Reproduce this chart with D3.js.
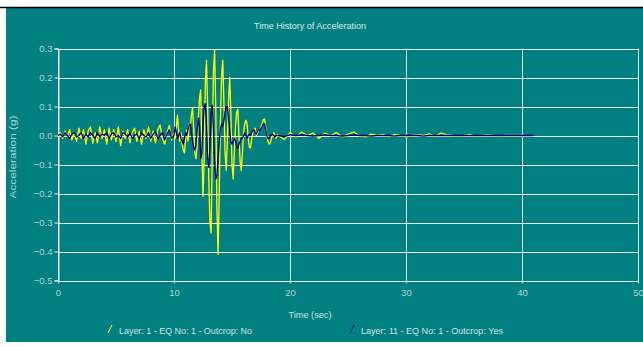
<!DOCTYPE html>
<html>
<head>
<meta charset="utf-8">
<script src="https://cdn.jsdelivr.net/npm/d3@7"></script>
<style>
  body { margin: 0; background: #ffffff; }
  svg { display: block; }
  text { font-family: "Liberation Sans", Arial, sans-serif; }
</style>
</head>
<body>
<div id="chart"></div>
<script>
// Time history data: each piece is a start time, a time step and sampled accelerations (g)
const xTicks = [0, 10, 20, 30, 40, 50];
const yTicks = [0.3, 0.2, 0.1, 0.0, -0.1, -0.2, -0.3, -0.4, -0.5];

// Layer 1 (yellow)
const layer1Quiet = [
    0.0, 0.01, -0.01, 0.015, -0.005, 0.02, -0.015, 0.01, -0.02, 0.025,
    -0.01, 0.02, -0.03, 0.015, 0.03, -0.026, 0.01, -0.025, 0.03, -0.01,
    0.02, -0.03, 0.025, -0.015, 0.02, -0.02, 0.03, -0.035, 0.015, -0.01,
    0.02, -0.025, 0.01, 0.025, -0.02, 0.015, -0.03, 0.02, -0.01, 0.03,
    -0.02, 0.015, -0.025, 0.02, 0.036, -0.01, -0.03, 0.01, 0.035, -0.015
];
const layer1Strong = [
    0.01, -0.01, 0.03, 0.07, 0.02, -0.02, 0.01, -0.03, -0.05, -0.06,
    -0.01, 0.02, -0.02, 0.04, 0.03, 0.07, 0.095, 0.02, -0.06, -0.08,
    -0.03, 0.06, 0.13, 0.157, -0.05, -0.21, -0.08, 0.18, 0.26, 0.1,
    -0.15, -0.3, -0.336, -0.05, 0.22, 0.295, 0.1, -0.25, -0.41, -0.2,
    0.05, 0.2, 0.26, 0.12, -0.06, -0.12, -0.02, 0.12, 0.2, 0.08,
    -0.1, -0.15, -0.06, 0.03, 0.08, 0.09, 0.0, -0.09, -0.12, -0.06,
    0.01, 0.04, 0.053, 0.04, -0.01, -0.04, -0.043, -0.01, 0.01, 0.02,
    0.025, 0.0, 0.01, 0.02, 0.015, 0.03, 0.04, 0.055, 0.057, 0.03,
    0.0, -0.02, -0.03, -0.026, -0.01, 0.0, 0.01, 0.0, -0.01, 0.005
];
const layer1Tail = [
    0.0, -0.014, 0.01, -0.005, 0.012, 0.0, 0.008, -0.01, 0.008, 0.0,
    0.01, -0.005, 0.005, 0.012, 0.0, -0.005, 0.005, 0.0, 0.004, -0.004,
    0.003, 0.0, -0.004, 0.0, 0.002, 0.0, 0.006, -0.004, 0.008, 0.003,
    0.0, -0.003, 0.0, 0.004, -0.003, 0.0, 0.002, 0.0, -0.002, 0.0,
    0.0, 0.0, 0.0
];

// Layer 11 (navy)
const layer11Quiet = [
    0.0, 0.005, -0.005, 0.01, 0.0, -0.01, 0.005, 0.01, -0.005, 0.0,
    0.01, -0.01, 0.005, -0.005, 0.01, 0.0, -0.01, 0.01, -0.005, 0.005,
    0.0, 0.01, -0.01, 0.005, 0.01, -0.005, 0.0, -0.01, 0.01, 0.005,
    -0.005, 0.01, -0.01, 0.0, 0.005, -0.01, 0.01, 0.0, -0.005, 0.01,
    -0.01, 0.005, 0.015, -0.01, 0.0, 0.01, -0.015, 0.005, 0.02, -0.01
];
const layer11Strong = [
    0.0, 0.03, 0.01, -0.01, 0.0, 0.01, -0.01, -0.02, -0.03, -0.01,
    0.01, 0.0, 0.02, 0.035, 0.04, 0.01, -0.02, -0.04, -0.05, -0.03,
    0.02, 0.06, 0.03, -0.08, -0.06, 0.04, 0.1, 0.11, 0.03, -0.08,
    -0.11, -0.04, 0.08, 0.105, 0.02, -0.09, -0.15, -0.14, -0.08, -0.02,
    0.02, 0.04, 0.03, 0.05, 0.08, 0.1, 0.1, 0.06, 0.02, -0.02,
    -0.03, -0.02, -0.01, -0.02, -0.04, -0.045, -0.03, -0.02, -0.01, -0.01,
    0.0, 0.01, 0.0, -0.01, 0.0, 0.005, 0.0, 0.01, 0.015, 0.02,
    0.01, 0.005, 0.015, 0.02, 0.015, 0.025, 0.03, 0.04, 0.04, 0.02,
    0.0, -0.01, -0.01, 0.0, 0.0, 0.005, 0.0, -0.005, 0.0, 0.0
];
const layer11Tail = [
    0.0, -0.004, 0.003, 0.0, 0.002, 0.0, -0.002, 0.0, 0.002, 0.0,
    0.0, -0.002, 0.0, 0.002, 0.0, 0.0, -0.002, 0.0, 0.0, 0.0,
    -0.002, 0.0, 0.0, 0.0, 0.0, -0.002, 0.0, 0.0, 0.0, 0.0,
    0.0, 0.0, 0.0, 0.0, 0.0, 0.0, 0.0, 0.0, 0.0, 0.0,
    0.0, 0.0, 0.0, 0.0, 0.0
];

const seriesNames = ["Layer: 1 - EQ No: 1 - Outcrop: No", "Layer: 11 - EQ No: 1 - Outcrop: Yes"];
const seriesColors = ["#ffff00", "#000080"];

function buildSeries(pieces) {
    const pts = [];
    pieces.forEach(p => {
        p.values.forEach((v, i) => pts.push([p.start + i * p.dt, v]));
    });
    return pts;
}

const series = [
    buildSeries([
        { start: 0, dt: 0.2, values: layer1Quiet },
        { start: 10, dt: 0.1, values: layer1Strong },
        { start: 19, dt: 0.5, values: layer1Tail }
    ]),
    buildSeries([
        { start: 0, dt: 0.2, values: layer11Quiet },
        { start: 10, dt: 0.1, values: layer11Strong },
        { start: 19, dt: 0.5, values: layer11Tail }
    ])
];

const width = 643;
const height = 347;
const plot = { left: 58, right: 638, top: 48.5, bottom: 280.5 };

const svg = d3.select("#chart")
    .append("svg")
    .attr("width", width)
    .attr("height", height);

// panel background
svg.append("rect")
    .attr("x", 6).attr("y", 8)
    .attr("width", width - 6).attr("height", 334)
    .attr("fill", "#008080");
svg.append("line")
    .attr("x1", 0).attr("x2", width)
    .attr("y1", 7.5).attr("y2", 7.5)
    .attr("stroke", "#000000")
    .attr("stroke-width", 1.5);

const x = d3.scaleLinear().domain([0, 50]).range([plot.left, plot.right]);
const y = d3.scaleLinear().domain([-0.5, 0.3]).range([plot.bottom, plot.top]);

// grid
svg.append("g")
    .selectAll("line")
    .data(yTicks)
    .join("line")
    .attr("x1", plot.left).attr("x2", plot.right)
    .attr("y1", d => Math.round(y(d)) + 0.5).attr("y2", d => Math.round(y(d)) + 0.5)
    .attr("stroke", "#f0f4f4")
    .attr("stroke-width", 1);

svg.append("g")
    .selectAll("line")
    .data(xTicks)
    .join("line")
    .attr("x1", d => Math.round(x(d)) + 0.5).attr("x2", d => Math.round(x(d)) + 0.5)
    .attr("y1", plot.top).attr("y2", plot.bottom + 3)
    .attr("stroke", "#d8e6e6")
    .attr("stroke-width", 1);

// axes
const yAxis = svg.append("g")
    .attr("transform", `translate(${plot.left + 0.5},0)`)
    .call(d3.axisLeft(y).tickValues(yTicks).tickSize(4).tickPadding(2).tickFormat(d3.format(".1f")));
const xAxis = svg.append("g")
    .attr("transform", `translate(0,${plot.bottom + 0.5})`)
    .call(d3.axisBottom(x).tickValues(xTicks).tickSize(0).tickPadding(8).tickFormat(d3.format("d")));

[yAxis, xAxis].forEach(a => {
    a.select(".domain").attr("stroke", "#f0f4f4");
    a.selectAll(".tick line").attr("stroke", "#f0f4f4");
    a.selectAll(".tick text")
        .attr("fill", "#b4d4d4")
        .attr("font-size", "9.5px")
        .attr("font-family", "Liberation Sans, Arial, sans-serif");
});

// series lines
const line = d3.line().x(d => x(d[0])).y(d => y(d[1]));
series.forEach((s, i) => {
    svg.append("path")
        .datum(s)
        .attr("d", line)
        .attr("fill", "none")
        .attr("stroke", seriesColors[i])
        .attr("stroke-width", i === 0 ? 1.3 : 1.3)
        .attr("stroke-linejoin", "round");
});

// title and axis labels
svg.append("text")
    .attr("x", 310).attr("y", 29)
    .attr("text-anchor", "middle")
    .attr("font-size", "9.5px")
    .attr("fill", "#d8e8e8")
    .attr("textLength", 112)
    .attr("lengthAdjust", "spacingAndGlyphs")
    .text("Time History of Acceleration");

svg.append("text")
    .attr("x", 310).attr("y", 318)
    .attr("text-anchor", "middle")
    .attr("font-size", "9.5px")
    .attr("fill", "#d0e4e4")
    .attr("textLength", 43)
    .attr("lengthAdjust", "spacingAndGlyphs")
    .text("Time (sec)");

svg.append("text")
    .attr("transform", "translate(16,157) rotate(-90)")
    .attr("text-anchor", "middle")
    .attr("font-size", "9.5px")
    .attr("fill", "#b4d4d4")
    .attr("textLength", 83)
    .attr("lengthAdjust", "spacingAndGlyphs")
    .text("Acceleration (g)");

// legend
const legendX = [110, 352];
const legendLen = [133, 142];
seriesNames.forEach((name, i) => {
    const g = svg.append("g").attr("transform", `translate(${legendX[i]},330)`);
    g.append("line")
        .attr("x1", -2).attr("y1", 3)
        .attr("x2", 2).attr("y2", -5)
        .attr("stroke", seriesColors[i])
        .attr("stroke-width", 1);
    g.append("text")
        .attr("x", 9).attr("y", 3.5)
        .attr("font-size", "9.5px")
        .attr("fill", "#d0e4e4")
        .attr("textLength", legendLen[i])
        .attr("lengthAdjust", "spacingAndGlyphs")
        .text(name);
});
</script>
</body>
</html>
